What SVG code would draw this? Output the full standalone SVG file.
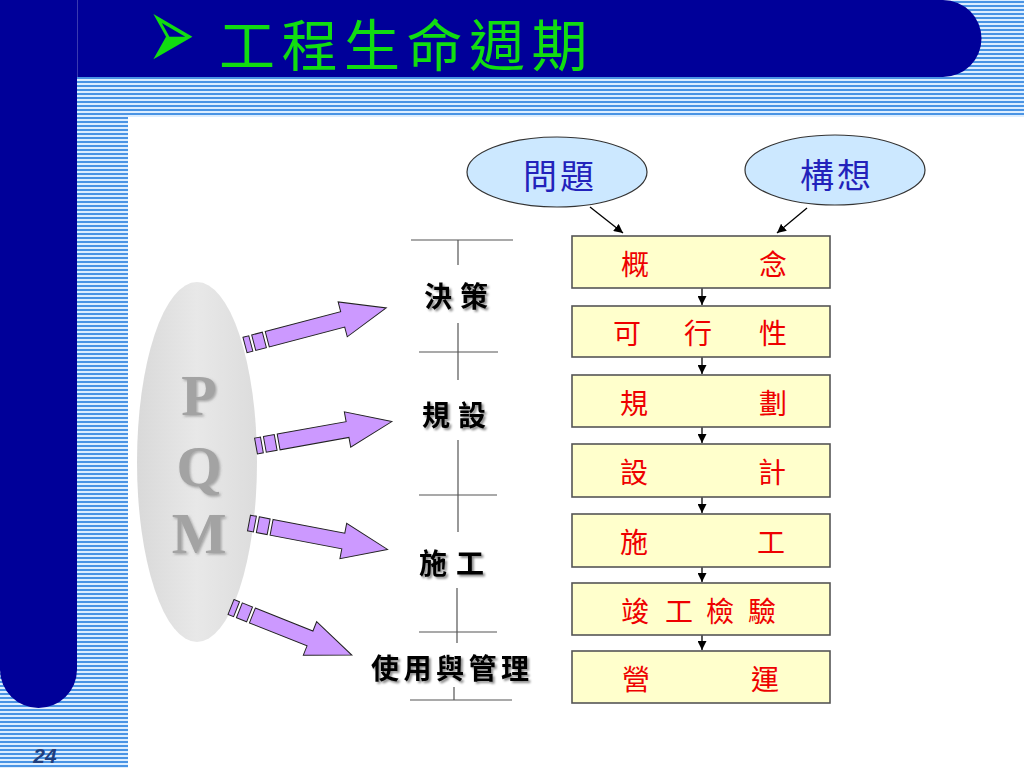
<svg xmlns="http://www.w3.org/2000/svg" width="1024" height="768" viewBox="0 0 1024 768">
<defs>
<pattern id="stripes" x="0" y="1" width="8" height="4" patternUnits="userSpaceOnUse">
<rect width="8" height="4" fill="#DDEEFF"/>
<rect y="0" width="8" height="2" fill="#4A94E4"/>
</pattern>
<linearGradient id="pqmGrad" x1="0" y1="0" x2="1" y2="0">
<stop offset="0" stop-color="#D9D9D9"/>
<stop offset="0.5" stop-color="#E8E8E8"/>
<stop offset="1" stop-color="#DCDCDC"/>
</linearGradient>
<filter id="shadow" x="-20%" y="-20%" width="140%" height="140%">
<feDropShadow dx="2" dy="2" stdDeviation="1" flood-color="#000" flood-opacity="0.45"/>
</filter>
<filter id="lshadow" x="-20%" y="-20%" width="140%" height="140%">
<feDropShadow dx="1.5" dy="1.5" stdDeviation="1" flood-color="#666" flood-opacity="0.5"/>
</filter>
<marker id="ah" viewBox="0 0 10 10" refX="10" refY="5" markerWidth="9" markerHeight="9" markerUnits="userSpaceOnUse" orient="auto">
<path d="M0,0 L10,5 L0,10 z" fill="#000"/>
</marker>
<style>
.navy{fill:#000099}
.title{font-family:"Noto Sans CJK TC","Noto Sans CJK SC",sans-serif;font-size:56px;fill:#11DD11;letter-spacing:6.5px}
.oval{fill:#CCE8FF;stroke:#333;stroke-width:1.2}
.ovtxt{font-family:"Noto Sans CJK TC",sans-serif;font-size:34px;fill:#2222BB;text-anchor:middle;letter-spacing:3px}
.box{fill:#FFFFCC;stroke:#555;stroke-width:1.6}
.btxt{font-family:"Noto Sans CJK TC",sans-serif;font-size:28px;fill:#EE0000;text-anchor:middle}
.conn{stroke:#000;stroke-width:1.3;fill:none}
.tl{stroke:#555;stroke-width:1.2;fill:none}
.lbl{font-family:"Noto Sans CJK TC",sans-serif;font-size:28px;font-weight:bold;fill:#000;filter:url(#shadow)}
.pqm{font-family:"Liberation Serif",serif;font-size:58px;font-weight:bold;fill:#A3A3A3;text-anchor:middle;filter:url(#lshadow)}
.parr{fill:#CC99FF;stroke:#222;stroke-width:1}
.pg{font-family:"Liberation Sans",sans-serif;font-size:21px;font-weight:bold;font-style:italic;fill:#1F3F7F;text-anchor:middle}
</style>
</defs>

<g id="background">
<rect width="1024" height="768" fill="url(#stripes)"/>
<rect x="128" y="117" width="896" height="651" fill="#FFFFFF"/>
<path class="navy" d="M0,0 H77 V669.5 A38.5,38.5 0 0 1 0,669.5 Z"/>
<path class="navy" d="M0,0 H943 A38.5,38.5 0 0 1 943,77 H0 Z"/>
<line x1="77.5" y1="0" x2="77.5" y2="77" stroke="#3A3AB0" stroke-width="1"/>
</g>

<g id="title">
<text transform="translate(147,68.5) scale(1.25,2.24)" x="0" y="0" font-family="DejaVu Sans,sans-serif" font-size="46" fill="#11DD11">➢</text>
<text class="title" x="219" y="66">工程生命週期</text>
</g>

<g id="pqm">
<ellipse cx="197" cy="462" rx="60" ry="180" fill="url(#pqmGrad)"/>
<text class="pqm" x="199" y="415">P</text>
<text class="pqm" x="199" y="486">Q</text>
<text class="pqm" x="199" y="553">M</text>
</g>

<g id="purple-arrows">
<g transform="translate(245,345) rotate(-14.7)">
<path class="parr" d="M0,-8 h6 v16 h-6 z M9,-8 h11 v16 h-11 z"/>
<path class="parr" d="M23,-8 H101 V-18 L146,0 L101,18 V8 H23 Z"/>
</g>
<g transform="translate(256,446) rotate(-10.2)">
<path class="parr" d="M0,-8 h6 v16 h-6 z M9,-8 h11 v16 h-11 z"/>
<path class="parr" d="M23,-8 H93 V-18 L138,0 L93,18 V8 H23 Z"/>
</g>
<g transform="translate(249,523) rotate(10.8)">
<path class="parr" d="M0,-8 h6 v16 h-6 z M9,-8 h11 v16 h-11 z"/>
<path class="parr" d="M23,-8 H96 V-18 L141,0 L96,18 V8 H23 Z"/>
</g>
<g transform="translate(231,607) rotate(21.7)">
<path class="parr" d="M0,-8 h6 v16 h-6 z M9,-8 h11 v16 h-11 z"/>
<path class="parr" d="M23,-8 H85 V-18 L130,0 L85,18 V8 H23 Z"/>
</g>
</g>

<g id="timeline">
<path class="tl" d="M411,240 H513 M458,240 V265 M458,323 V380 M419,352 H498 M458,440 V532 M419,495 H497 M457,588 V643 M419,632 H497 M454,687 V700 M410,700 H512"/>
</g>
<g id="lbl-decision"><text class="lbl" x="424" y="307" letter-spacing="8">決策</text></g>
<g id="lbl-planning"><text class="lbl" x="422" y="426" letter-spacing="8">規設</text></g>
<g id="lbl-construction"><text class="lbl" x="419" y="574" letter-spacing="9">施工</text></g>
<g id="lbl-operation"><text class="lbl" x="371" y="679" font-size="29" letter-spacing="4.5">使用與管理</text></g>

<g id="connectors">
<line class="conn" x1="590" y1="207" x2="623" y2="233" marker-end="url(#ah)"/>
<line class="conn" x1="807" y1="208" x2="777" y2="233" marker-end="url(#ah)"/>
<line class="conn" x1="702" y1="288" x2="702" y2="305" marker-end="url(#ah)"/>
<line class="conn" x1="702" y1="357" x2="702" y2="374" marker-end="url(#ah)"/>
<line class="conn" x1="702" y1="427" x2="702" y2="443" marker-end="url(#ah)"/>
<line class="conn" x1="702" y1="497" x2="702" y2="513" marker-end="url(#ah)"/>
<line class="conn" x1="702" y1="567" x2="702" y2="582" marker-end="url(#ah)"/>
<line class="conn" x1="702" y1="635" x2="702" y2="650" marker-end="url(#ah)"/>
</g>

<g id="node-problem">
<ellipse class="oval" cx="557" cy="172" rx="90" ry="35"/>
<text class="ovtxt" x="560" y="189">問題</text>
</g>
<g id="node-idea">
<ellipse class="oval" cx="835" cy="170" rx="90" ry="35"/>
<text class="ovtxt" x="837" y="188">構想</text>
</g>

<g id="box-concept">
<rect class="box" x="572" y="236" width="258" height="52"/>
<text class="btxt" y="275"><tspan x="635">概</tspan><tspan x="773">念</tspan></text>
</g>
<g id="box-feasibility">
<rect class="box" x="572" y="306" width="258" height="51"/>
<text class="btxt" y="344"><tspan x="627">可</tspan><tspan x="698">行</tspan><tspan x="773">性</tspan></text>
</g>
<g id="box-planning">
<rect class="box" x="572" y="375" width="258" height="52"/>
<text class="btxt" y="414"><tspan x="634">規</tspan><tspan x="773">劃</tspan></text>
</g>
<g id="box-design">
<rect class="box" x="572" y="444" width="258" height="53"/>
<text class="btxt" y="483"><tspan x="634">設</tspan><tspan x="772">計</tspan></text>
</g>
<g id="box-construction">
<rect class="box" x="572" y="514" width="258" height="53"/>
<text class="btxt" y="553"><tspan x="634">施</tspan><tspan x="771">工</tspan></text>
</g>
<g id="box-inspection">
<rect class="box" x="572" y="583" width="258" height="52"/>
<text class="btxt" y="622"><tspan x="635">竣</tspan><tspan x="679">工</tspan><tspan x="720">檢</tspan><tspan x="762">驗</tspan></text>
</g>
<g id="box-operation">
<rect class="box" x="572" y="651" width="258" height="52"/>
<text class="btxt" y="690"><tspan x="636">營</tspan><tspan x="765">運</tspan></text>
</g>

<g id="page-number">
<text class="pg" x="45" y="763">24</text>
</g>
</svg>
